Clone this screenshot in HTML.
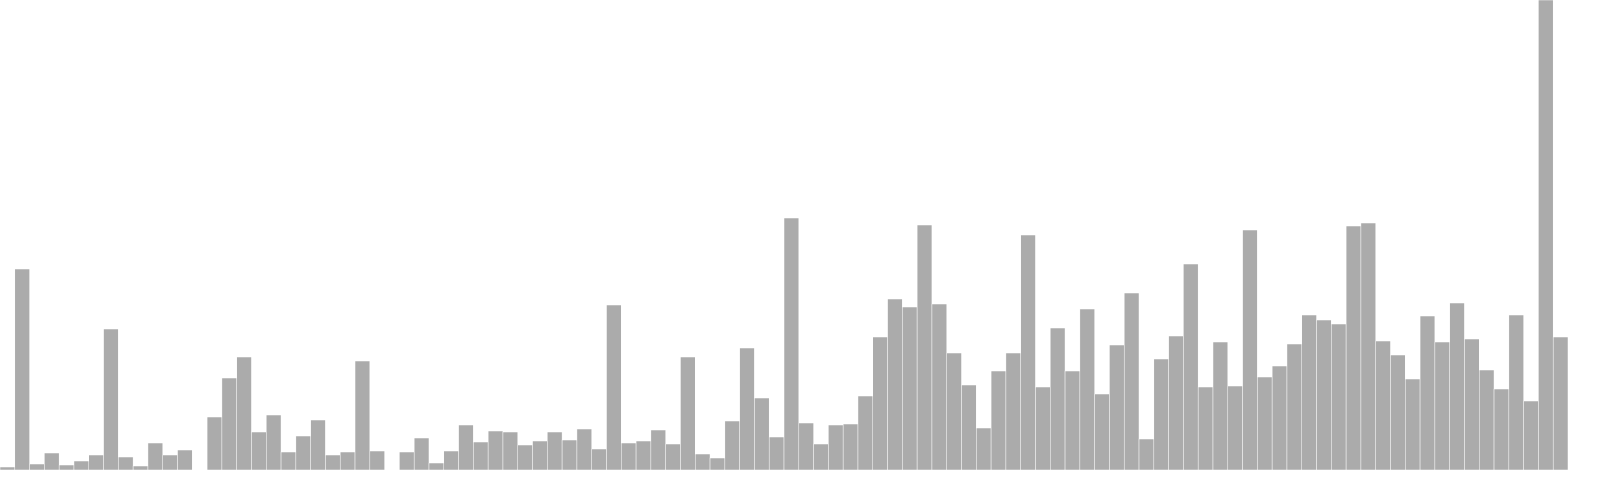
<!DOCTYPE html>
<html><head><meta charset="utf-8"><style>
html,body{margin:0;padding:0;background:#fff;}
svg{display:block;}
</style></head><body>
<svg id="chart" width="1600" height="480" viewBox="0 0 1600 480" xmlns="http://www.w3.org/2000/svg">
<g id="bars"></g>
</svg>
<script>
const categories = Array.from({length:106},(_,i)=>'bin-'+i);
const values = [3,201,6,17,5,9,15,141,13,4,27,15,20,0,53,92,113,38,55,18,34,50,15,18,109,19,0,18,32,7,19,45,28,39,38,25,29,38,30,41,21,165,27,29,40,26,113,16,12,49,122,72,33,252,47,26,45,46,74,133,171,163,245,166,117,85,42,99,117,235,83,142,99,161,76,125,177,31,111,134,206,83,128,84,240,93,104,126,155,150,146,244,247,129,115,91,154,128,167,131,100,81,155,69,470,133];
const maxVal = 470;
const W = 1568, H = 470;
const bw = W / categories.length;
function xScale(i){ return i * bw; }
function yScale(v){ return H - v / maxVal * H; }
const g = document.getElementById('bars');
values.forEach((v,i)=>{
  const r = document.createElementNS('http://www.w3.org/2000/svg','rect');
  
  
  r.setAttribute('x', xScale(i));
  r.setAttribute('y', yScale(v));
  r.setAttribute('width', bw);
  r.setAttribute('height', H - yScale(v));
  r.setAttribute('fill', '#ababab');
  r.setAttribute('stroke', '#ffffff');
  r.setAttribute('stroke-width', '0.5');
  g.appendChild(r);
});
</script>
</body></html>
